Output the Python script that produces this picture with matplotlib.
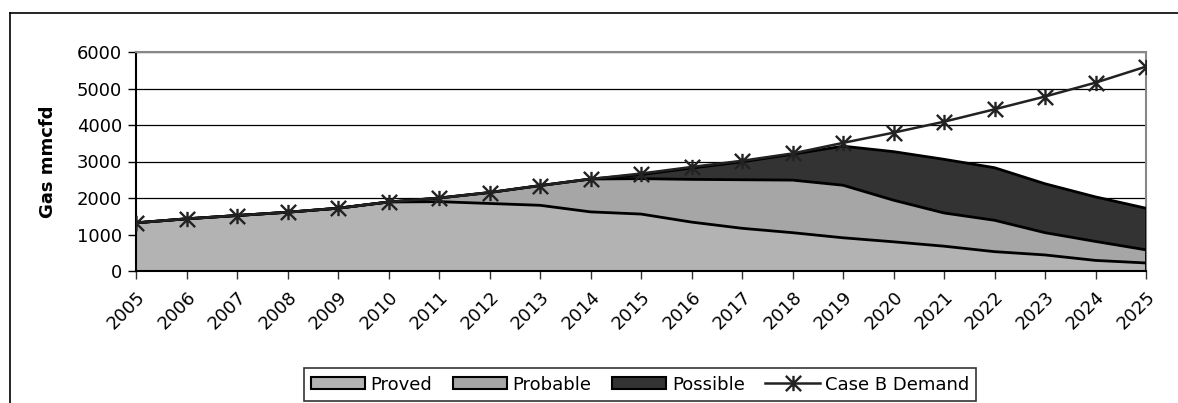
import matplotlib
matplotlib.use("Agg")
import matplotlib.pyplot as plt
from matplotlib.path import Path
from matplotlib.lines import Line2D
import numpy as np

plt.rcParams['font.family'] = ['DejaVu Sans']

years = list(range(2005, 2026))
proved = [1320, 1430, 1520, 1610, 1720, 1890, 1900, 1850, 1800, 1620, 1560,
          1340, 1170, 1050, 910, 800, 680, 530, 440, 290, 220]
probable = [0, 0, 0, 0, 0, 0, 100, 300, 540, 900, 970,
            1170, 1330, 1440, 1440, 1140, 910, 860, 610, 520, 360]
possible = [0, 0, 0, 0, 0, 0, 0, 0, 0, 0, 110,
            310, 490, 710, 1070, 1330, 1470, 1440, 1340, 1220, 1140]
demand = [1320, 1430, 1520, 1610, 1720, 1890, 2000, 2150, 2340, 2520, 2670,
          2850, 3020, 3220, 3510, 3790, 4090, 4430, 4780, 5160, 5600]

W, H = 1178, 403
FS = 13
fig = plt.figure(figsize=(W / 100, H / 100), dpi=100)
ax = fig.add_axes([136 / W, 1 - 271 / H, (1146 - 136) / W, (271 - 52) / H])

x = np.arange(len(years))
c1 = np.array(proved)
c2 = c1 + np.array(probable)
c3 = c2 + np.array(possible)

ax.fill_between(x, 0, c1, color='#b3b3b3', lw=0, zorder=1)
ax.fill_between(x, c1, c2, color='#a6a6a6', lw=0, zorder=1)
ax.fill_between(x, c2, c3, color='#333333', lw=0, zorder=1)
for c in (c1, c2, c3):
    ax.plot(x, c, color='black', lw=2, zorder=3, solid_joinstyle='round')
ax.plot([x[-1], x[-1]], [0, c3[-1]], color='black', lw=2, zorder=3)

asterisk = Path([(-1, -1), (1, 1), (-1, 1), (1, -1), (0, -1), (0, 1)],
                [Path.MOVETO, Path.LINETO, Path.MOVETO, Path.LINETO,
                 Path.MOVETO, Path.LINETO])
ax.plot(x, demand, color='#222222', lw=1.8, marker=asterisk, markersize=11,
        markeredgewidth=1.7, markeredgecolor='#222222', zorder=4,
        label='Case B Demand')

ax.set_xlim(0, len(years) - 1)
ax.set_ylim(0, 6000)
ax.set_yticks(range(0, 6001, 1000))
ax.yaxis.grid(True, color='black', lw=0.9)
ax.set_axisbelow(True)
ax.set_xticks(x)
ax.set_xticklabels([str(y) for y in years], rotation=45, ha='right',
                   rotation_mode='anchor', fontsize=FS)
ax.tick_params(axis='y', labelsize=FS, length=6, width=1, pad=4)
ax.tick_params(axis='x', length=6, width=1, pad=6, color='#333333')
ax.set_ylabel('Gas mmcfd', fontsize=FS, fontweight='bold', labelpad=14)

for s in ('top', 'right'):
    ax.spines[s].set_color('#888888')
    ax.spines[s].set_linewidth(1.5)
for s in ('left', 'bottom'):
    ax.spines[s].set_color('black')
    ax.spines[s].set_linewidth(1.5)

# outer chart frame
fig.add_artist(Line2D([10 / W, 1], [1 - 13 / H, 1 - 13 / H], color='black', lw=1.2))
fig.add_artist(Line2D([10 / W, 10 / W], [0, 1 - 13 / H], color='black', lw=1.2))

handles = [
    plt.Rectangle((0, 0), 1, 1, fc='#b3b3b3', ec='black', lw=1.5),
    plt.Rectangle((0, 0), 1, 1, fc='#a6a6a6', ec='black', lw=1.5),
    plt.Rectangle((0, 0), 1, 1, fc='#333333', ec='black', lw=1.5),
    Line2D([], [], color='#222222', lw=1.8, marker=asterisk, markersize=11,
           markeredgewidth=1.7),
]
labels = ['Proved', 'Probable', 'Possible', 'Case B Demand']
leg = fig.legend(handles, labels, loc='center', bbox_to_anchor=(640 / W, 1 - 384.5 / H),
                 ncol=4, fontsize=FS, frameon=True, fancybox=False,
                 handlelength=3.0, handleheight=0.67, handletextpad=0.3,
                 columnspacing=1.15, borderpad=0.4, borderaxespad=0)
leg.get_frame().set_edgecolor('black')
leg.get_frame().set_linewidth(1.2)

fig.savefig('out.png', dpi=100)
